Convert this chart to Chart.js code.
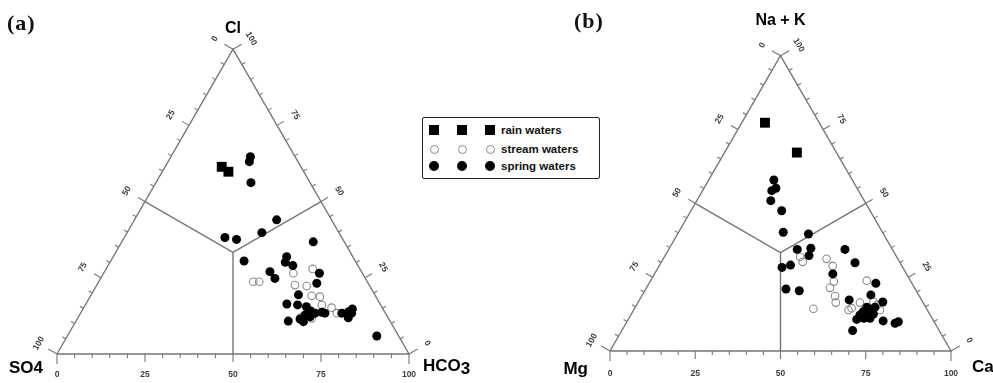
<!DOCTYPE html>
<html>
<head>
<meta charset="utf-8">
<script src="https://cdn.jsdelivr.net/npm/chart.js@4.4.0/dist/chart.umd.min.js"></script>
<style>
  body { margin: 0; background: #fff; }
  #wrap { position: relative; width: 993px; height: 383px; overflow: hidden; }
  .box { position: absolute; top: 0; height: 383px; }
  #boxA { left: 0; width: 480px; }
  #boxB { left: 500px; width: 493px; }
  .panel { position: absolute; font-family: "Liberation Serif", serif; font-weight: bold; font-size: 22px; letter-spacing: 1px; color: #111; }
  #legend { position: absolute; left: 422px; top: 117px; width: 176px; height: 60px; border: 1.5px solid #222; border-radius: 2px; background: #fff;
            font-family: "Liberation Sans", Arial, sans-serif; font-weight: bold; font-size: 11.5px; color: #111; }
  .mk { position: absolute; box-sizing: border-box; }
  .txt { position: absolute; line-height: 14px; }
</style>
</head>
<body>
<div id="wrap">
  <div class="box" id="boxA"><canvas id="chartA"></canvas></div>
  <div class="box" id="boxB"><canvas id="chartB"></canvas></div>
  <div class="panel" style="left:7px; top:10px;">(a)</div>
  <div class="panel" style="left:574px; top:8px;">(b)</div>
  <div id="legend"></div>
</div>
<script>
// (a) anions: Cl (top), HCO3 (right), SO4 = rest
const rainCl_a = [61.4, 59.8];
const rainHCO3_a = [16.1, 18.8];
const streamCl_a = [23.7, 23.7, 26.5, 27.9, 22.6, 22.3, 19.1, 18.8, 16.1, 15.2, 13.4, 12.2, 11.7];
const streamHCO3_a = [43.9, 45.6, 53.9, 58.7, 56.3, 59.8, 62.8, 65.3, 67.2, 70.4, 72.8, 63.4, 66.5];
const springCl_a = [64.7, 63.1, 56.2, 38.2, 37.6, 39.8, 44.0, 36.8, 30.5, 31.9, 30.1, 29.0, 27.0, 24.8, 26.5, 23.2, 19.4, 16.4,
                    16.1, 15.5, 14.1, 13.4, 13.7, 13.4, 12.8, 10.6, 10.8, 12.2, 13.4, 13.9, 14.8, 13.4, 11.9, 5.9, 11.5];
const springHCO3_a = [22.6, 23.1, 27.0, 28.6, 32.2, 38.3, 40.4, 54.4, 37.9, 49.3, 49.8, 52.5, 47.0, 49.5, 61.3, 62.2, 58.9, 57.1,
                      60.3, 63.1, 65.0, 66.6, 68.4, 69.4, 64.1, 64.7, 60.3, 65.8, 74.2, 75.9, 76.5, 77.0, 76.8, 87.9, 63.3];

// (b) cations: Na + K (top), Ca (right), Mg = rest
const rainNaK_b = [77.3, 67.2];
const rainCa_b = [6.8, 21.2];
const streamNaK_b = [31.9, 30.2, 31.2, 28.8, 23.5, 21.4, 18.6, 16.4, 14.3, 23.8, 16.4, 13.9, 14.5, 15.6, 16.7, 13.9];
const streamCa_b = [39.8, 41.4, 47.9, 50.9, 53.9, 53.8, 56.7, 58.0, 52.5, 63.4, 65.1, 63.0, 63.6, 70.6, 68.9, 72.2];
const springNaK_b = [57.9, 55.1, 54.3, 50.9, 47.5, 40.2, 39.6, 34.4, 34.8, 32.3, 28.3, 29.1, 21.0, 20.4, 34.4, 29.9, 26.1,
                     22.9, 19.0, 17.3, 16.6, 14.8, 13.3, 13.6, 12.2, 10.7, 11.1, 12.5, 11.1, 10.2, 6.9, 9.4, 9.9, 14.8];
const springCa_b = [19.1, 21.1, 20.3, 21.7, 26.6, 30.7, 38.4, 37.7, 41.5, 42.2, 36.3, 38.4, 41.1, 45.3, 51.7, 56.9, 52.3,
                    66.5, 67.0, 61.5, 71.7, 67.9, 67.6, 68.9, 67.2, 67.0, 70.7, 71.0, 68.9, 75.0, 67.7, 78.9, 79.6, 70.3];

const tickLabels = ['0', '25', '50', '75', '100'];
const legendLabels = ['rain waters', 'stream waters', 'spring waters'];

const lineColor = '#767676';
const H = Math.sqrt(3) / 2;

// ternary (top %, right %) -> cartesian, base 0..100
function toXY(top, right) {
    return { x: right + top / 2, y: top * H };
}
function pts(tops, rights) {
    return tops.map((t, i) => toXY(t, rights[i]));
}

const frame = {
    id: 'frame',
    beforeDatasetsDraw(chart, args, o) {
        const ctx = chart.ctx, xs = chart.scales.x, ys = chart.scales.y;
        const pix = (t, r) => { const q = toXY(t, r); return { x: xs.getPixelForValue(q.x), y: ys.getPixelForValue(q.y) }; };
        const c = pix(100 / 3, 100 / 3);
        const sides = [
            { from: pix(0, 0), to: pix(0, 100), rot: 0, gap: o.bottomGap },
            { from: pix(100, 0), to: pix(0, 0), rot: -Math.PI / 3, gap: 21 },
            { from: pix(0, 100), to: pix(100, 0), rot: Math.PI / 3, gap: 21 }
        ];
        ctx.save();
        ctx.strokeStyle = lineColor;
        ctx.lineWidth = 1.1;
        ctx.fillStyle = '#3c3c3c';
        ctx.font = 'bold 8.5px "Liberation Sans", Arial, sans-serif';
        ctx.textAlign = 'center';
        ctx.textBaseline = 'middle';
        sides.forEach(s => {
            const dx = s.to.x - s.from.x, dy = s.to.y - s.from.y, len = Math.hypot(dx, dy);
            let nx = -dy / len, ny = dx / len;
            const mx = (s.from.x + s.to.x) / 2, my = (s.from.y + s.to.y) / 2;
            if ((c.x - mx) * nx + (c.y - my) * ny > 0) { nx = -nx; ny = -ny; }
            for (let v = 0; v <= 100; v += 5) {
                const px = s.from.x + dx * v / 100, py = s.from.y + dy * v / 100;
                const L = v % 100 === 0 ? 10 : (v % 25 === 0 ? 8 : 4);
                ctx.beginPath();
                ctx.moveTo(px, py);
                ctx.lineTo(px + nx * L, py + ny * L);
                ctx.stroke();
            }
            tickLabels.forEach(lab => {
                const v = Number(lab);
                const px = s.from.x + dx * v / 100, py = s.from.y + dy * v / 100;
                ctx.save();
                ctx.translate(px + nx * s.gap, py + ny * s.gap);
                ctx.rotate(s.rot);
                ctx.fillText(lab, 0, 0);
                ctx.restore();
            });
        });
        ctx.fillStyle = '#000';
        ctx.textBaseline = 'middle';
        o.names.forEach(n => {
            const p = pix(n.at[0], n.at[1]);
            ctx.font = 'bold ' + n.size + 'px "Liberation Sans", Arial, sans-serif';
            ctx.textAlign = n.align;
            let x = p.x + n.dx;
            const y = p.y + n.dy;
            ctx.fillText(n.text, x, y);
            if (n.sub) {
                ctx.textAlign = 'left';
                ctx.fillText(n.sub, x + ctx.measureText(n.text).width, y + 3);
            }
        });
        ctx.restore();
    }
};

function seg(a, b) {
    return { data: [toXY(a[0], a[1]), toXY(b[0], b[1])], showLine: true, borderColor: lineColor, borderWidth: 1.4,
             pointRadius: 0, order: 10, clip: false };
}

function makeChart(id, boxW, ox, oy, pxu, rain, stream, spring, names, bottomGap) {
    const c3 = [100 / 3, 100 / 3];
    const outline = { data: [toXY(0, 0), toXY(0, 100), toXY(100, 0), toXY(0, 0)], showLine: true,
                      borderColor: lineColor, borderWidth: 1.4, pointRadius: 0, order: 10, clip: false };
    new Chart(document.getElementById(id), {
        type: 'scatter',
        data: {
            datasets: [
                outline,
                seg(c3, [50, 0]), seg(c3, [50, 50]), seg(c3, [0, 50]),
                { label: legendLabels[1], data: stream, pointStyle: 'circle', pointRadius: 3.8, borderWidth: 1.1,
                  borderColor: '#8a8a8a', backgroundColor: 'rgba(255,255,255,0)', order: 3 },
                { label: legendLabels[2], data: spring, pointStyle: 'circle', pointRadius: 4.5, borderWidth: 0,
                  backgroundColor: '#000', borderColor: '#000', order: 2 },
                { label: legendLabels[0], data: rain, pointStyle: 'rect', pointRadius: 7, borderWidth: 0,
                  backgroundColor: '#000', borderColor: '#000', order: 1 }
            ]
        },
        options: {
            responsive: true,
            maintainAspectRatio: false,
            animation: false,
            events: [],
            layout: { padding: 0, autoPadding: false },
            scales: {
                x: { type: 'linear', display: false, min: -ox / pxu, max: (boxW - ox) / pxu },
                y: { type: 'linear', display: false, min: -(383 - oy) / pxu, max: oy / pxu }
            },
            plugins: {
                legend: { display: false },
                tooltip: { enabled: false },
                frame: { names: names, bottomGap: bottomGap }
            }
        },
        plugins: [frame]
    });
}

makeChart('chartA', 480, 57, 354, 3.52,
    pts(rainCl_a, rainHCO3_a), pts(streamCl_a, streamHCO3_a), pts(springCl_a, springHCO3_a),
    [
        { text: 'Cl', at: [100, 0], dx: 0, dy: -21, align: 'center', size: 16 },
        { text: 'SO4', at: [0, 0], dx: -14, dy: 14, align: 'right', size: 17 },
        { text: 'HCO', sub: '3', at: [0, 100], dx: 14, dy: 12, align: 'left', size: 17 }
    ], 21);

makeChart('chartB', 493, 110, 351, 3.41,
    pts(rainNaK_b, rainCa_b), pts(streamNaK_b, streamCa_b), pts(springNaK_b, springCa_b),
    [
        { text: 'Na + K', at: [100, 0], dx: 0, dy: -35, align: 'center', size: 16 },
        { text: 'Mg', at: [0, 0], dx: -22, dy: 18, align: 'right', size: 17 },
        { text: 'Ca', at: [0, 100], dx: 21, dy: 16, align: 'left', size: 17 }
    ], 23);

// legend: three markers per row, as in the original figure
const legend = document.getElementById('legend');
const rowY = [12, 31, 48];
const markX = [11, 39, 67];
legendLabels.forEach((lab, i) => {
    markX.forEach(mx => {
        const m = document.createElement('div');
        m.className = 'mk';
        const s = i === 1 ? 9 : 10;
        m.style.width = s + 'px';
        m.style.height = s + 'px';
        m.style.left = (mx - s / 2) + 'px';
        m.style.top = (rowY[i] - s / 2) + 'px';
        if (i === 0) { m.style.background = '#000'; }
        if (i === 1) { m.style.border = '1.2px solid #8a8a8a'; m.style.borderRadius = '50%'; }
        if (i === 2) { m.style.background = '#000'; m.style.borderRadius = '50%'; }
        legend.appendChild(m);
    });
    const t = document.createElement('div');
    t.className = 'txt';
    t.textContent = lab;
    t.style.left = '78px';
    t.style.top = (rowY[i] - 7) + 'px';
    legend.appendChild(t);
});
</script>
</body>
</html>
